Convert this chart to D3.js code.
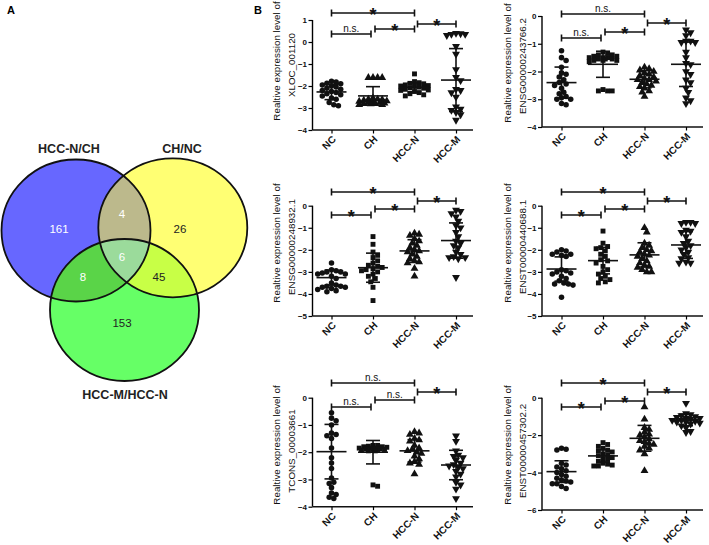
<!DOCTYPE html>
<html><head><meta charset="utf-8">
<script src="https://cdn.jsdelivr.net/npm/d3@7"></script>
<style>body{margin:0;background:#fff}svg{display:block}text{font-family:"Liberation Sans",Arial,sans-serif}</style>
</head><body><svg id="c" width="709" height="545"></svg>
<script>
// ---------- DATA ----------
const groups = ["NC", "CH", "HCC-N", "HCC-M"];
const genes = ["XLOC_001120", "ENSG00000243766.2", "ENSG00000248932.1", "ENST00000440688.1", "TCONS_00003661", "ENST00000457302.2"];
const yTicks = [[1,0,-1,-2,-3,-4],[0,-1,-2,-3,-4],[0,-1,-2,-3,-4,-5],[0,-1,-2,-3,-4,-5],[0,-1,-2,-3,-4],[0,-2,-4,-6]];
const yDomains = [[-4,1],[-4,0],[-5,0],[-5,0],[-4,0],[-6,0]];

const xloc001120 = [
  [-1.78,-1.82,-1.88,-1.9,-1.95,-2.0,-2.05,-2.1,-2.15,-2.2,-2.25,-2.3,-2.35,-2.4,-2.45,-2.55,-2.6,-2.75,-2.85,-2.9],
  [-1.62,-1.62,-1.62,-1.62,-2.55,-2.6,-2.62,-2.65,-2.68,-2.7,-2.72,-2.75,-2.75,-2.78,-2.8,-2.8,-2.82,-2.85,-2.85,-2.6],
  [-1.45,-1.8,-1.85,-1.88,-1.9,-1.95,-1.98,-2.0,-2.02,-2.05,-2.08,-2.1,-2.15,-2.18,-2.2,-2.25,-2.3,-2.35,-2.4,-2.45],
  [0.4,0.38,0.35,0.35,0.3,-0.2,-0.55,-1.25,-1.6,-1.75,-2.15,-2.2,-2.3,-2.5,-2.95,-3.05,-3.1,-3.2,-3.3,-3.55]
];
const ensg243766 = [
  [-1.25,-1.5,-1.6,-1.85,-2.05,-2.1,-2.2,-2.3,-2.4,-2.45,-2.5,-2.6,-2.75,-2.8,-2.9,-2.95,-3.0,-3.0,-3.15,-3.2],
  [-1.3,-1.35,-1.4,-1.4,-1.45,-1.45,-1.5,-1.5,-1.5,-1.55,-1.55,-1.55,-1.6,-1.6,-1.6,-1.65,-2.7,-2.7,-2.7,-2.65],
  [-1.85,-1.9,-1.95,-2.0,-2.05,-2.1,-2.15,-2.2,-2.25,-2.3,-2.3,-2.35,-2.4,-2.45,-2.5,-2.55,-2.6,-2.7,-2.75,-2.9],
  [-0.5,-0.6,-0.7,-0.9,-0.9,-0.95,-0.95,-1.3,-1.5,-1.7,-1.75,-2.0,-2.1,-2.3,-2.4,-2.6,-2.75,-2.95,-3.05,-3.15]
];
const ensg248932 = [
  [-2.6,-2.9,-2.95,-3.0,-3.0,-3.05,-3.1,-3.1,-3.2,-3.3,-3.5,-3.6,-3.65,-3.65,-3.7,-3.7,-3.75,-3.8,-3.85,-3.9],
  [-1.4,-1.75,-2.1,-2.25,-2.35,-2.5,-2.6,-2.7,-2.75,-2.8,-2.85,-2.9,-2.95,-3.0,-3.1,-3.2,-3.3,-3.45,-3.7,-4.3],
  [-1.25,-1.3,-1.35,-1.5,-1.6,-1.7,-1.8,-1.9,-2.0,-2.05,-2.1,-2.2,-2.3,-2.4,-2.5,-2.55,-2.6,-2.85,-3.2],
  [-0.2,-0.25,-0.35,-0.5,-0.7,-0.9,-1.0,-1.2,-1.4,-1.6,-1.7,-1.8,-1.9,-2.1,-2.2,-2.35,-2.35,-2.4,-2.3,-3.25]
];
const enst440688 = [
  [-2.0,-2.05,-2.1,-2.2,-2.2,-2.25,-2.3,-2.9,-2.95,-3.0,-3.05,-3.1,-3.2,-3.3,-3.4,-3.5,-3.55,-3.55,-3.6,-4.15],
  [-1.15,-1.7,-1.85,-1.9,-1.95,-2.05,-2.2,-2.3,-2.45,-2.5,-2.6,-2.75,-2.9,-3.0,-3.1,-3.2,-3.3,-3.35,-3.45,-3.5],
  [-1.0,-1.2,-1.7,-1.8,-1.9,-2.0,-2.05,-2.1,-2.2,-2.25,-2.3,-2.4,-2.5,-2.6,-2.7,-2.75,-2.8,-2.9,-3.0,-3.0],
  [-0.75,-0.75,-0.8,-0.8,-1.1,-1.15,-1.2,-1.4,-1.6,-1.7,-1.8,-1.9,-2.0,-2.1,-2.2,-2.35,-2.4,-2.55,-2.6,-2.6]
];
const tcons3661 = [
  [-0.55,-0.75,-0.85,-1.0,-1.3,-1.35,-1.4,-1.5,-1.85,-2.2,-2.4,-2.6,-2.95,-3.1,-3.15,-3.3,-3.5,-3.55,-3.65,-3.7],
  [-1.75,-1.75,-1.78,-1.8,-1.8,-1.82,-1.85,-1.85,-1.85,-1.87,-1.88,-1.9,-1.9,-1.9,-1.92,-1.95,-1.95,-3.2,-3.25],
  [-1.25,-1.3,-1.35,-1.5,-1.55,-1.6,-1.75,-1.85,-1.9,-1.95,-2.0,-2.05,-2.15,-2.25,-2.35,-2.4,-2.45,-2.8],
  [-1.4,-1.6,-1.95,-2.1,-2.15,-2.2,-2.3,-2.4,-2.45,-2.5,-2.55,-2.6,-2.7,-2.8,-2.9,-3.1,-3.2,-3.35,-3.7]
];
const enst457302 = [
  [-2.7,-2.75,-2.8,-3.5,-3.6,-3.7,-3.8,-3.9,-4.0,-4.1,-4.2,-4.3,-4.4,-4.45,-4.5,-4.6,-4.6,-4.75,-4.85],
  [-2.4,-2.5,-2.6,-2.7,-2.8,-2.85,-2.9,-3.0,-3.05,-3.1,-3.2,-3.25,-3.3,-3.4,-3.5,-3.55,-3.6,-3.65,-3.65],
  [-0.5,-1.15,-1.6,-1.7,-1.85,-1.95,-2.0,-2.1,-2.2,-2.3,-2.35,-2.45,-2.5,-2.6,-2.7,-2.8,-3.0,-3.9],
  [-0.3,-0.85,-0.9,-0.95,-1.0,-1.05,-1.1,-1.1,-1.15,-1.2,-1.2,-1.25,-1.3,-1.3,-1.35,-1.4,-1.5,-1.6,-1.8,-1.85]
];
const panelValues = [xloc001120, ensg243766, ensg248932, enst440688, tcons3661, enst457302];

// group means and standard deviations
const means = [[-2.27,-2.45,-2.06,-1.73],[-2.4,-1.74,-2.28,-1.74],[-3.26,-2.81,-2.05,-1.58],[-2.87,-2.49,-2.23,-1.78],[-1.98,-2.0,-1.95,-2.47],[-3.95,-3.11,-2.17,-1.19]];
const sds   = [[0.35,0.42,0.2,1.43],[0.56,0.47,0.31,0.8],[0.34,0.66,0.51,0.8],[0.55,0.6,0.55,0.61],[1.0,0.43,0.41,0.54],[0.58,0.33,0.69,0.31]];

// significance: [NC vs HCC-N, NC vs CH, CH vs HCC-N, HCC-N vs HCC-M]
const comparisons = [["NC","HCC-N"],["NC","CH"],["CH","HCC-N"],["HCC-N","HCC-M"]];
const signif = [["*","n.s.","*","*"],["n.s.","n.s.","*","*"],["*","*","*","*"],["*","*","*","*"],["n.s.","n.s.","n.s.","*"],["*","*","*","*"]];

// Venn
const vennSets = ["HCC-N/CH", "CH/NC", "HCC-M/HCC-N"];
const vennRegions = ["A","B","C","AB","AC","BC","ABC"];
const vennCounts  = [161, 26, 153, 4, 8, 45, 6];

// ---------- LAYOUT ----------
const svg = d3.select("#c");
svg.append("rect").attr("width",709).attr("height",545).attr("fill","#fff");

svg.append("text").attr("x",7).attr("y",14).attr("font-size",11).attr("font-weight","bold").text("A");
svg.append("text").attr("x",254).attr("y",14).attr("font-size",11).attr("font-weight","bold").text("B");

// Venn diagram
const ell = [
  {cx:76, cy:230.5, rx:74.5, ry:71, fill:"#6767ff"},
  {cx:172.8, cy:227.8, rx:74.5, ry:69.5, fill:"#ffff73"},
  {cx:124.5, cy:310, rx:74.5, ry:71, fill:"#66ff66"}
];
const defs = svg.append("defs");
ell.forEach((e,i)=>{
  defs.append("clipPath").attr("id","clip"+i).append("ellipse")
    .attr("cx",e.cx).attr("cy",e.cy).attr("rx",e.rx).attr("ry",e.ry);
});
const vg = svg.append("g");
function ellipse(g,e,fill){ return g.append("ellipse").attr("cx",e.cx).attr("cy",e.cy).attr("rx",e.rx).attr("ry",e.ry).attr("fill",fill); }
ell.forEach(e=>ellipse(vg,e,e.fill));
ellipse(vg.append("g").attr("clip-path","url(#clip0)"), ell[1], "#bcb98c");
ellipse(vg.append("g").attr("clip-path","url(#clip0)"), ell[2], "#5ad448");
ellipse(vg.append("g").attr("clip-path","url(#clip1)"), ell[2], "#c8ff46");
ellipse(vg.append("g").attr("clip-path","url(#clip0)").append("g").attr("clip-path","url(#clip1)"), ell[2], "#9bdb9b");
ell.forEach(e=>vg.append("ellipse").attr("cx",e.cx).attr("cy",e.cy).attr("rx",e.rx).attr("ry",e.ry)
  .attr("fill","none").attr("stroke","#111").attr("stroke-width",1.8));

const setLabelPos = [[69,152.5],[182,152.5],[125,399]];
vennSets.forEach((s,i)=>vg.append("text").attr("x",setLabelPos[i][0]).attr("y",setLabelPos[i][1])
  .attr("text-anchor","middle").attr("font-size",12.5).attr("font-weight","bold").attr("fill","#222").text(s));
const regionPos = {A:[59,233],B:[180,233],C:[122,327],AB:[122,218],AC:[83,280.5],BC:[159,280.5],ABC:[122,261]};
const regionColor = {A:"#fff",B:"#222",C:"#222",AB:"#fff",AC:"#fff",BC:"#222",ABC:"#fff"};
vennRegions.forEach((r,i)=>vg.append("text").attr("x",regionPos[r][0]).attr("y",regionPos[r][1])
  .attr("text-anchor","middle").attr("font-size",11.5).attr("fill",regionColor[r]).text(vennCounts[i]));

// Panels
const cols = [
  {axisX:312.5, xr:[331.5,456], axisEnd:473, t1:276, t2:291},
  {axisX:542, xr:[561.5,686], axisEnd:703, t1:507, t2:522}
];
const rows = [
  {yr:[[130,20],[127,16]], br:[[13,34,29,24],[14,38,32,23]], tc:[[61,65],[63,66]]},
  {yr:[[316,205.7],[316,205.7]], br:[[192,215,209,201],[192,215,209,201]], tc:[[243,247],[243,247]]},
  {yr:[[506.7,397.7],[510,397.7]], br:[[383,407,400,392],[383,407,401,392]], tc:[[445,451],[445,451]]}
];
const shapeSets = [
  ["circle","triangle","square","down"],
  ["circle","square","triangle","down"]
];
const symType = {circle:d3.symbolCircle, square:d3.symbolSquare, triangle:d3.symbolTriangle, down:d3.symbolTriangle};
const symSize = {circle:24, square:24, triangle:27, down:27};

// simple deterministic beeswarm, limited in width like a scatter dot plot
function swarm(vals, y, diam, maxOff){
  const pts = vals.map(v=>({v, py:y(v)})).sort((a,b)=>a.py-b.py);
  const placed = [];
  const step = diam*0.5;
  const nK = Math.floor(maxOff/step);
  const cands = [0];
  for(let k=1;k<=nK;k++){ cands.push(k*step, -k*step); }
  pts.forEach(p=>{
    let best=null, bestD=-1;
    for(const off of cands){
      const md = placed.reduce((m,q)=>Math.min(m, Math.hypot(q.dx-off, q.py-p.py)), 1e9);
      if(md >= diam){ best=off; break; }
      if(md > bestD+0.3){ bestD=md; best=off; }
    }
    p.dx = best;
    placed.push(p);
  });
  return pts;
}

panelValues.forEach((vals, pi)=>{
  const r = Math.floor(pi/2), c = pi%2;
  const col = cols[c], row = rows[r];
  const g = svg.append("g");
  const x = d3.scalePoint().domain(groups).range(col.xr);
  const y = d3.scaleLinear().domain(yDomains[pi]).range(row.yr[c]);
  const y0 = y.range()[0], y1 = y.range()[1];

  // axes
  const ya = g.append("g").attr("transform",`translate(${col.axisX},0)`)
    .call(d3.axisLeft(y).tickValues(yTicks[pi]).tickFormat(d3.format("d")).tickSize(4).tickPadding(1.5));
  ya.select(".domain").attr("stroke-width",1.4).attr("d",`M0,${y1}V${y0}`);
  ya.selectAll(".tick line").attr("stroke-width",1.2);
  ya.selectAll("text").attr("font-size",8).attr("font-weight","bold").attr("fill","#111");
  g.append("line").attr("x1",col.axisX).attr("x2",col.axisEnd).attr("y1",y0).attr("y2",y0).attr("stroke","#111").attr("stroke-width",1.4);
  const xa = g.append("g").attr("transform",`translate(0,${y0})`)
    .call(d3.axisBottom(x).tickSize(3.5).tickFormat(""));
  xa.select(".domain").remove();
  xa.selectAll(".tick line").attr("stroke-width",1.2);
  groups.forEach(gr=>{
    g.append("text").attr("text-anchor","end").attr("font-size",10).attr("font-weight","bold").attr("fill","#111")
      .attr("transform",`translate(${x(gr)+5},${y0+10}) rotate(-45)`).text(gr);
  });

  // y title
  const yt = [["Realtive expression level of", col.t1, row.tc[c][0]], [genes[pi], col.t2, row.tc[c][1]]];
  yt.forEach(t=>g.append("text").attr("text-anchor","middle").attr("font-size",9.8).attr("fill","#111")
    .attr("transform",`translate(${t[1]+3.6},${t[2]}) rotate(-90)`).text(t[0]));

  // points
  const shapes = shapeSets[pi===0?0:1];
  groups.forEach((gr,gi)=>{
    const pts = swarm(vals[gi], y, 4.6, 14);
    const sh = shapes[gi];
    const sym = d3.symbol().type(symType[sh]).size(symSize[sh]);
    pts.forEach(p=>{
      g.append("path").attr("d",sym())
        .attr("transform",`translate(${x(gr)+p.dx},${p.py})${sh==="down"?" rotate(180)":""}`)
        .attr("fill","#111");
    });
    // mean & sd
    const m = means[pi][gi], s = sds[pi][gi];
    const cx = x(gr);
    const ln = (a,b,cc,d)=>g.append("line").attr("x1",a).attr("y1",b).attr("x2",cc).attr("y2",d).attr("stroke","#111").attr("stroke-width",1.6);
    ln(cx-15,y(m),cx+15,y(m));
    ln(cx,y(m+s),cx,y(m-s));
    ln(cx-7,y(m+s),cx+7,y(m+s));
    ln(cx-7,y(m-s),cx+7,y(m-s));
  });

  // significance brackets
  comparisons.forEach((cmp,ci)=>{
    const by = row.br[c][ci];
    let xa1 = x(cmp[0]), xa2 = x(cmp[1]);
    if(ci===1) xa2 -= 2;
    if(ci===2) xa1 += 2;
    if(ci===3) xa1 += 3;
    g.append("line").attr("x1",xa1).attr("x2",xa2).attr("y1",by).attr("y2",by).attr("stroke","#111").attr("stroke-width",1.6);
    [xa1,xa2].forEach(xx=>g.append("line").attr("x1",xx).attr("x2",xx).attr("y1",by-3.5).attr("y2",by+3.5).attr("stroke","#111").attr("stroke-width",1.6));
    const lab = signif[pi][ci];
    const tx = (xa1+xa2)/2;
    if(lab==="*"){
      g.append("text").attr("x",tx).attr("y",by+7.5).attr("text-anchor","middle").attr("font-size",18).attr("font-weight","bold").attr("fill","#111").text(lab);
    } else {
      g.append("text").attr("x",tx).attr("y",by-2).attr("text-anchor","middle").attr("font-size",10).attr("fill","#111").text(lab);
    }
  });
});
</script></body></html>
